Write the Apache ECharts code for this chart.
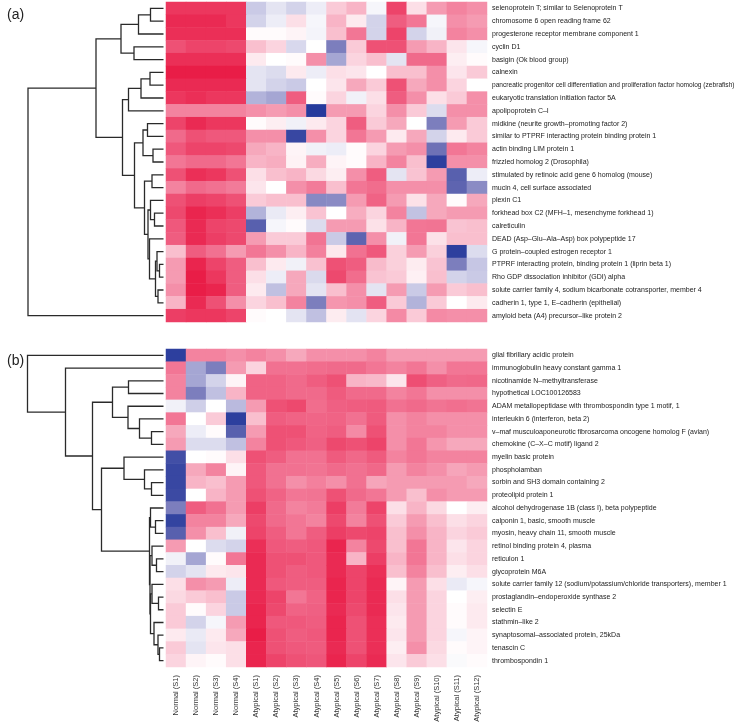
<!DOCTYPE html>
<html><head><meta charset="utf-8">
<script src="https://cdn.jsdelivr.net/npm/echarts@6/dist/echarts.min.js"></script>
<style>html,body{margin:0;padding:0;background:#fff}#c{width:740px;height:722px}</style>
</head><body><div id="c"></div>
<script>
const sampleLabels = ['Normal (S1)','Normal (S2)','Normal (S3)','Normal (S4)',
 'Atypical (S1)','Atypical (S2)','Atypical (S3)','Atypical (S4)','Atypical (S5)','Atypical (S6)',
 'Atypical (S7)','Atypical (S8)','Atypical (S9)','Atypical (S10)','Atypical (S11)','Atypical (S12)'];

const genesA = [
 'selenoprotein T; similar to Selenoprotein T',
 'chromosome 6 open reading frame 62',
 'progesterone receptor membrane component 1',
 'cyclin D1',
 'basigin (Ok blood group)',
 'calnexin',
 'pancreatic progenitor cell differentiation and proliferation factor homolog (zebrafish)',
 'eukaryotic translation initiation factor 5A',
 'apolipoprotein C\u2013I',
 'midkine (neurite growth\u2013promoting factor 2)',
 'similar to PTPRF interacting protein binding protein 1',
 'actin binding LIM protein 1',
 'frizzled homolog 2 (Drosophila)',
 'stimulated by retinoic acid gene 6 homolog (mouse)',
 'mucin 4, cell surface associated',
 'plexin C1',
 'forkhead box C2 (MFH\u20131, mesenchyme forkhead 1)',
 'calreticulin',
 'DEAD (Asp\u2013Glu\u2013Ala\u2013Asp) box polypeptide 17',
 'G protein\u2013coupled estrogen receptor 1',
 'PTPRF interacting protein, binding protein 1 (liprin beta 1)',
 'Rho GDP dissociation inhibitor (GDI) alpha',
 'solute carrier family 4, sodium bicarbonate cotransporter, member 4',
 'cadherin 1, type 1, E\u2013cadherin (epithelial)',
 'amyloid beta (A4) precursor\u2013like protein 2'
];

const genesB = [
 'glial fibrillary acidic protein',
 'immunoglobulin heavy constant gamma 1',
 'nicotinamide N\u2013methyltransferase',
 'hypothetical LOC100126583',
 'ADAM metallopeptidase with thrombospondin type 1 motif, 1',
 'interleukin 6 (interferon, beta 2)',
 'v\u2013maf musculoaponeurotic fibrosarcoma oncogene homolog F (avian)',
 'chemokine (C\u2013X\u2013C motif) ligand 2',
 'myelin basic protein',
 'phospholamban',
 'sorbin and SH3 domain containing 2',
 'proteolipid protein 1',
 'alcohol dehydrogenase 1B (class I), beta polypeptide',
 'calponin 1, basic, smooth muscle',
 'myosin, heavy chain 11, smooth muscle',
 'retinol binding protein 4, plasma',
 'reticulon 1',
 'glycoprotein M6A',
 'solute carrier family 12 (sodium/potassium/chloride transporters), member 1',
 'prostaglandin\u2013endoperoxide synthase 2',
 'selectin E',
 'stathmin\u2013like 2',
 'synaptosomal\u2013associated protein, 25kDa',
 'tenascin C',
 'thrombospondin 1'
];

// relative expression (-1 = blue, 0 = white, 1 = red), rows follow genes, columns follow samples
const valuesA = [
 [0.85,0.85,0.85,0.85,-0.3,-0.15,-0.25,-0.1,0.25,0.35,-0.05,0.8,0.15,0.45,0.55,0.5],
 [0.9,0.9,0.9,0.85,-0.25,-0.1,0.15,-0.05,0.35,0.1,-0.25,0.7,0.6,-0.05,0.5,0.45],
 [0.88,0.88,0.88,0.88,0.02,0.02,0.05,-0.06,0.3,0.6,-0.25,0.8,-0.25,-0.08,0.55,0.5],
 [0.75,0.8,0.8,0.78,0.3,0.2,-0.22,0,-0.6,0.25,0.75,0.75,0.45,0.35,0.12,-0.05],
 [0.88,0.88,0.88,0.88,0.1,0,0.02,0.5,-0.45,0.2,0.3,-0.15,0.65,0.65,0.08,0.02],
 [0.95,0.95,0.95,0.95,-0.15,-0.2,0.1,-0.1,0.15,0.12,0,0.3,0.3,0.5,0.12,0.25],
 [0.9,0.9,0.9,0.9,-0.15,-0.25,-0.3,0,0.12,0.4,0.25,0.75,0.4,0.5,0.2,0],
 [0.85,0.88,0.85,0.85,-0.4,-0.45,0.7,0.02,0.2,-0.08,0.15,0.7,0.5,0.15,0.25,0.5],
 [0.55,0.55,0.55,0.55,0.5,0.45,0.5,-0.98,0.45,0.45,0.2,0.5,0.25,-0.2,0.5,0.5],
 [0.8,0.9,0.85,0.85,0.02,0.08,-0.08,0.1,0.2,0.7,0.25,0.4,0,-0.6,0.45,0.25],
 [0.65,0.75,0.72,0.72,0.5,0.5,-0.9,0.5,0.2,0.6,0.45,0.1,0.4,-0.25,0.1,0.25],
 [0.72,0.8,0.8,0.78,0.4,0.35,0.05,-0.08,-0.1,0.02,0.2,0.45,0.5,-0.65,0.6,0.55],
 [0.6,0.65,0.65,0.6,0.35,0.38,0.06,0.38,0.05,0.02,0.35,0.55,0.3,-0.95,0.5,0.5],
 [0.75,0.88,0.85,0.75,0.15,0.3,0.35,0.18,0.08,0.5,0.7,-0.15,0.28,0.45,-0.75,-0.1],
 [0.55,0.65,0.62,0.58,0.12,0,0.5,0.58,0.3,0.6,0.64,0.5,0.5,0.5,-0.72,-0.55],
 [0.75,0.82,0.8,0.75,0.25,0.3,0.3,-0.56,-0.55,0.45,0.68,0.45,0.14,0.4,0.02,0.4],
 [0.78,0.92,0.88,0.82,-0.4,-0.12,0.08,0.28,0,0.38,0.2,0.55,-0.34,0.4,0.45,0.45],
 [0.72,0.9,0.8,0.78,-0.75,-0.05,0.02,-0.2,0.45,0.45,0.14,0.35,0.6,0.61,0.28,0.3],
 [0.7,0.9,0.82,0.78,0.45,0.25,0.25,0.61,-0.3,-0.72,0.5,-0.08,0.6,0.14,0.3,0.3],
 [0.3,0.7,0.62,0.45,0.6,0.5,0.35,0.56,0.11,0.62,0.72,0.22,0.45,0.22,-0.95,-0.2],
 [0.45,0.92,0.8,0.7,0.3,0.1,-0.08,0.29,0.75,0.7,0.32,0.22,0.09,0.28,-0.6,-0.32],
 [0.45,0.95,0.85,0.7,0.15,-0.1,0.4,-0.21,0.78,0.64,0.28,0.25,0.07,0.3,-0.25,-0.3],
 [0.5,0.95,0.92,0.7,0.1,-0.35,0.4,-0.15,0.3,0.5,-0.15,0.45,-0.3,0.45,0.25,0.3],
 [0.35,0.9,0.75,0.5,0.2,0.3,0.55,-0.6,0.47,0.5,0.7,0.25,-0.4,0.25,0,0.1],
 [0.82,0.85,0.85,0.8,0.02,0,-0.15,-0.35,0.09,-0.16,0.2,0.52,0.25,0.52,0.5,0.5]
];

const valuesB = [
 [-0.95,0.55,0.55,0.5,0.55,0.5,0.4,0.5,0.5,0.5,0.55,0.45,0.45,0.45,0.45,0.45],
 [0.6,-0.45,-0.6,0.45,0.2,0.62,0.62,0.64,0.65,0.65,0.6,0.55,0.6,0.5,0.6,0.6],
 [0.55,-0.45,-0.25,0.05,0.68,0.68,0.65,0.7,0.75,0.35,0.33,0.12,0.76,0.69,0.65,0.66],
 [0.55,-0.6,-0.35,0.35,0.68,0.68,0.65,0.65,0.71,0.65,0.65,0.55,0.6,0.5,0.5,0.5],
 [-0.08,-0.27,0,-0.37,0.45,0.75,0.78,0.64,0.69,0.7,0.71,0.62,0.65,0.61,0.63,0.61],
 [0.6,0,0.25,-0.95,0.3,0.7,0.68,0.67,0.68,0.62,0.71,0.5,0.55,0.5,0.5,0.5],
 [0.4,-0.1,0.02,-0.75,0.45,0.75,0.75,0.68,0.7,0.52,0.75,0.5,0.55,0.55,0.5,0.5],
 [0.45,-0.2,-0.2,-0.35,0.55,0.75,0.72,0.69,0.78,0.75,0.8,0.5,0.6,0.47,0.4,0.4],
 [-0.85,0,0.02,0.15,0.75,0.7,0.62,0.62,0.71,0.66,0.71,0.55,0.6,0.55,0.55,0.55],
 [-0.9,0.4,0.55,0.05,0.72,0.62,0.62,0.61,0.65,0.62,0.66,0.45,0.55,0.5,0.41,0.45],
 [-0.9,0.35,0.3,0.45,0.72,0.62,0.5,0.56,0.5,0.62,0.41,0.45,0.45,0.45,0.45,0.4],
 [-0.88,0,0.35,0.45,0.75,0.68,0.6,0.61,0.75,0.65,0.6,0.45,0.3,0.5,0.45,0.45],
 [-0.6,0.7,0.62,0.45,0.82,0.65,0.55,0.58,0.82,0.58,0.8,0.15,0.35,0.18,0,0.08],
 [-0.92,0.55,0.55,0.4,0.78,0.65,0.6,0.55,0.78,0.55,0.75,0.25,0.45,0.3,0.15,0.2],
 [-0.75,0.5,0.3,-0.08,0.8,0.7,0.6,0.7,0.82,0.78,0.8,0.3,0.5,0.35,0.2,0.25],
 [0.45,0,-0.2,-0.25,0.88,0.72,0.7,0.72,0.92,0.55,0.78,0.3,0.6,0.35,0.12,0.2],
 [-0.08,-0.45,0.02,0.6,0.9,0.75,0.75,0.72,0.9,0.35,0.82,0.35,0.6,0.35,0.15,0.2],
 [-0.25,-0.15,0.1,0.12,0.9,0.75,0.7,0.72,0.9,0.8,0.88,0.3,0.55,0.3,0.08,0.15],
 [0.15,0.5,0.45,-0.1,0.9,0.72,0.7,0.7,0.92,0.8,0.9,0.05,0.45,0.15,-0.12,-0.05],
 [0.18,0.25,0.3,-0.3,0.9,0.8,0.6,0.68,0.92,0.8,0.9,0.15,0.45,0.2,0,0.08],
 [0.25,0.02,0.2,-0.3,0.92,0.78,0.68,0.69,0.9,0.78,0.9,0.12,0.45,0.2,0.02,0.1],
 [0.25,-0.25,-0.05,0.45,0.92,0.72,0.72,0.7,0.92,0.75,0.88,0.1,0.45,0.2,0.02,0.1],
 [0.1,-0.12,0.1,0.4,0.95,0.75,0.7,0.72,0.92,0.75,0.88,0.12,0.45,0.2,-0.05,0.05],
 [0.25,-0.15,0.12,0.15,0.92,0.75,0.72,0.71,0.9,0.75,0.88,0.08,0.5,0.18,0.02,0.05],
 [0.2,0.05,0.02,0.15,0.92,0.8,0.75,0.73,0.92,0.8,0.9,0.12,0.25,0.15,-0.03,0.02]
];

// hierarchical clustering merges: [left, right, height]; negative = leaf (row number), positive = earlier merge number
const mergeA = [
 [-1,-2,1.3],[1,-3,2.5],[-4,-5,2.95],[2,3,4.25],
 [-6,-7,1.35],[5,-8,2.25],[6,-9,3.5],
 [-10,-11,1.6],[-12,-13,1.05],[8,9,2.05],
 [-14,-15,1.15],[-17,-18,0.9],[-16,12,1.3],
 [-21,-22,0.4],[-20,14,0.65],[-23,-24,0.55],[15,16,0.8],[-19,17,1.4],
 [13,18,1.55],[11,19,1.9],[10,20,2.9],[7,21,4.1],[4,22,6.75],[23,-25,13.55]
];
const mergeB = [
 [-3,-4,3.5],[-7,-8,1.2],[-6,2,2.4],[-5,3,3.55],[1,4,5.1],
 [-11,-12,1.2],[-10,6,1.9],[-9,7,3.95],
 [-14,-15,0.8],[-13,9,1.3],
 [-17,-18,0.7],[-16,11,1.15],
 [-20,-21,0.5],[-19,13,1.15],
 [-24,-25,0.4],[-23,15,0.55],[-22,16,0.95],
 [14,17,1.3],[12,18,1.35],[10,19,1.4],[8,20,6.2],[5,21,7.1],[-2,22,9.8],[-1,23,13.6]
];

const maxHeight = 13.6;

function dendroSegments(merge) {
  const pos = [];
  const node = (id) => id < 0 ? {y: -id - 0.5, h: 0} : pos[id - 1];
  const segs = [];
  merge.forEach(([a, b, h]) => {
    const A = node(a), B = node(b);
    segs.push({coords: [[A.h, A.y], [h, A.y], [h, B.y], [B.h, B.y]]});
    pos.push({y: (A.y + B.y) / 2, h: h});
  });
  return segs;
}

function heatData(values) {
  const d = [];
  values.forEach((row, r) => row.forEach((v, c) => d.push([c, r, v])));
  return d;
}

// very long labels are set slightly smaller so they fit inside the page
function geneAxisData(genes) {
  return genes.map(g => g.length > 80 ? {value: g, textStyle: {fontSize: 6.6}} : g);
}

const panels = [
  {top: 2, height: 320, genes: genesA, values: valuesA, merge: mergeA, showX: false},
  {top: 349, height: 318, genes: genesB, values: valuesB, merge: mergeB, showX: true}
];

const FONT = 'Liberation Sans, Arial, Helvetica, sans-serif';
const grid = [], xAxis = [], yAxis = [], series = [];
panels.forEach((p, i) => {
  grid.push({left: 27.5, top: p.top, width: 136, height: p.height, containLabel: false, outerBoundsMode: 'none'});
  xAxis.push({type: 'value', gridIndex: 2*i, min: 0, max: maxHeight, inverse: true, show: false});
  yAxis.push({type: 'value', gridIndex: 2*i, min: 0, max: 25, inverse: true, show: false});
  series.push({
    type: 'lines', coordinateSystem: 'cartesian2d', xAxisIndex: 2*i, yAxisIndex: 2*i,
    polyline: true, silent: true, animation: false,
    lineStyle: {color: '#2a2a2a', width: 1.3, opacity: 1},
    data: dendroSegments(p.merge)
  });
  grid.push({left: 166, top: p.top, width: 321, height: p.height, containLabel: false, outerBoundsMode: 'none'});
  xAxis.push({type: 'category', gridIndex: 2*i+1, data: sampleLabels,
    axisLine: {show: false}, axisTick: {show: false}, splitArea: {show: false},
    axisLabel: {show: p.showX, rotate: 90, interval: 0, fontSize: 7.5, color: '#333', margin: 8, fontFamily: FONT}});
  yAxis.push({type: 'category', gridIndex: 2*i+1, data: geneAxisData(p.genes), inverse: true, position: 'right',
    axisLine: {show: false}, axisTick: {show: false}, splitArea: {show: false},
    axisLabel: {interval: 0, fontSize: 7, color: '#222', margin: 5, fontFamily: FONT}});
  series.push({
    type: 'heatmap', xAxisIndex: 2*i+1, yAxisIndex: 2*i+1, animation: false,
    data: heatData(p.values), itemStyle: {borderWidth: 0}
  });
});

const chart = echarts.init(document.getElementById('c'), null, {renderer: 'canvas'});
chart.setOption({
  backgroundColor: '#fff',
  animation: false,
  title: [
    {text: '(a)', left: 2, top: 3, textStyle: {fontSize: 14, fontWeight: 'normal', color: '#222', fontFamily: FONT}},
    {text: '(b)', left: 2, top: 349, textStyle: {fontSize: 14, fontWeight: 'normal', color: '#222', fontFamily: FONT}}
  ],
  grid: grid, xAxis: xAxis, yAxis: yAxis,
  visualMap: {
    type: 'continuous', min: -1, max: 1, show: false, seriesIndex: [1, 3],
    inRange: {color: ['#22379A', '#6A6DB4', '#C4C4E3', '#FFFFFF', '#F8B8C9', '#F06688', '#E8103C']}
  },
  series: series
});
</script></body></html>
